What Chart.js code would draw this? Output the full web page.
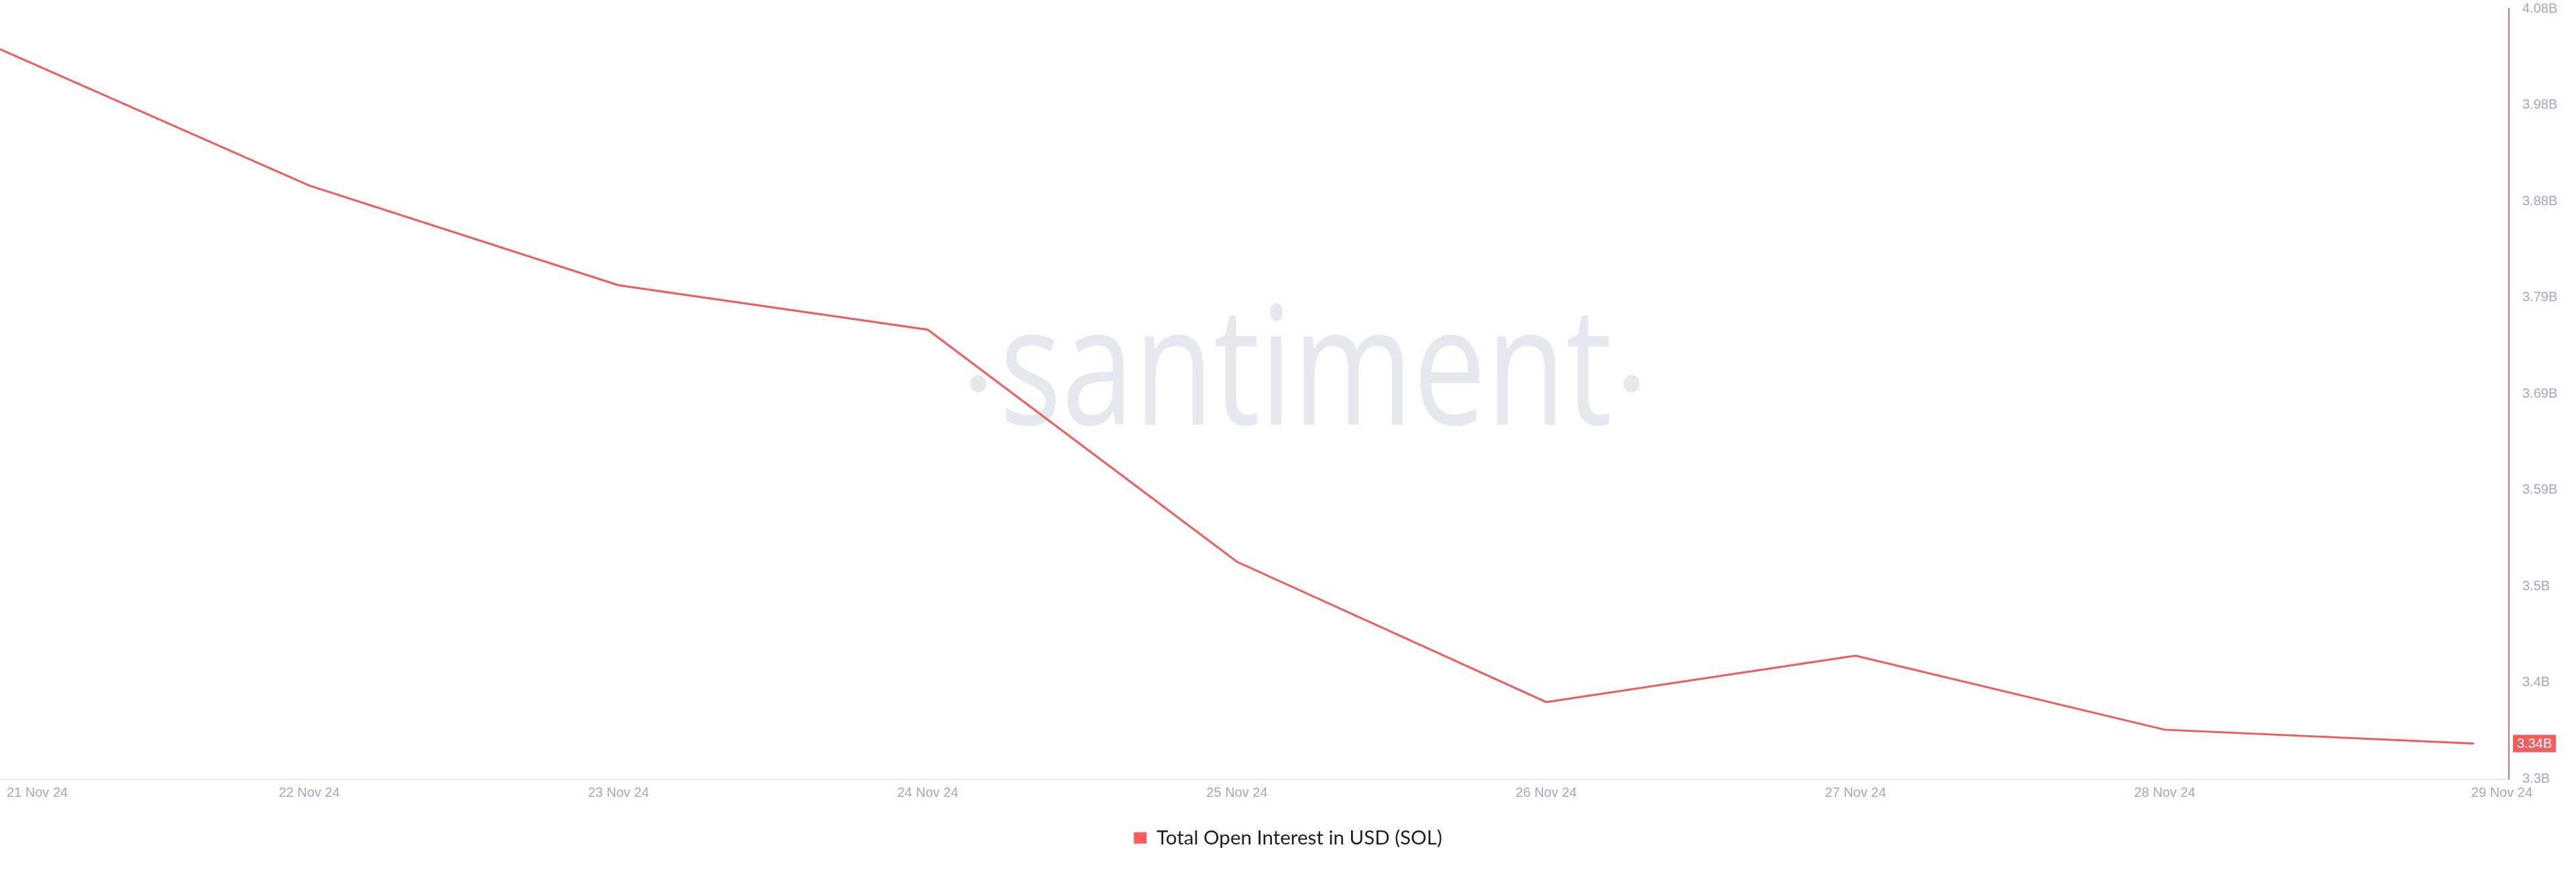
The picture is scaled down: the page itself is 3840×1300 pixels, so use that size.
<!DOCTYPE html>
<html>
<head>
<meta charset="utf-8">
<script src="https://cdn.jsdelivr.net/npm/chart.js@4.4.1/dist/chart.umd.min.js"></script>
<style>
  html, body { margin: 0; padding: 0; background: #ffffff; }
  #wrap { width: 3840px; height: 1300px; }
</style>
</head>
<body>
<div id="wrap"><canvas id="c" width="3840" height="1300"></canvas></div>
<script>
// ---- data ----
const dates = ['21 Nov 24', '22 Nov 24', '23 Nov 24', '24 Nov 24', '25 Nov 24', '26 Nov 24', '27 Nov 24', '28 Nov 24', '29 Nov 24'];
const openInterestB = [4.039, 3.901, 3.800, 3.755, 3.520, 3.378, 3.425, 3.350, 3.336];
const yTickLabels = ['3.3B', '3.4B', '3.5B', '3.59B', '3.69B', '3.79B', '3.88B', '3.98B', '4.08B'];
const yMin = 3.3;
const yMax = 4.08;
const seriesName = 'Total Open Interest in USD (SOL)';
const watermarkText = 'santiment';

const LINE = '#ef5a5a';
const TICK_COLOR = '#a2a7c2';
const TICK_FONT = '"Liberation Sans", Arial, sans-serif';

const watermark = {
  id: 'watermark',
  beforeDatasetsDraw(chart) {
    const ctx = chart.ctx;
    ctx.save();
    ctx.fillStyle = '#e6e8f0';
    ctx.font = '245px "Open Sans", sans-serif';
    ctx.textBaseline = 'alphabetic';
    ctx.textAlign = 'left';
    const natural = ctx.measureText(watermarkText).width;
    const targetW = 913;
    const cx = chart.chartArea.left + (chart.chartArea.right - chart.chartArea.left) * 0.5205;
    const left = cx - targetW / 2;
    ctx.translate(left, 633);
    ctx.scale(targetW / natural, 1);
    ctx.fillText(watermarkText, 0, 0);
    ctx.restore();
    ctx.save();
    ctx.fillStyle = '#e6e8f0';
    [left - 32, left + targetW + 29].forEach(x => {
      ctx.beginPath();
      ctx.ellipse(x, 572, 12, 13, 0, 0, Math.PI * 2);
      ctx.fill();
    });
    ctx.restore();
  }
};

const xLabels = {
  id: 'xLabels',
  afterDraw(chart) {
    const xs = chart.scales.x;
    const ctx = chart.ctx;
    ctx.save();
    ctx.font = '20px ' + TICK_FONT;
    ctx.fillStyle = TICK_COLOR;
    ctx.textBaseline = 'middle';
    ctx.textAlign = 'left';
    const y = xs.top + 21;
    dates.forEach((d, i) => {
      const px = xs.getPixelForValue(i);
      const w = ctx.measureText(d).width;
      let left = px - w / 2;
      if (i === 0) left = Math.max(left, xs.left + 10);
      if (i === dates.length - 1) left = xs.right + 35 - w;
      ctx.fillText(d, left, y);
    });
    ctx.restore();
  }
};

const lastBadge = {
  id: 'lastBadge',
  afterDraw(chart) {
    const ys = chart.scales.y;
    const ctx = chart.ctx;
    const v = openInterestB[openInterestB.length - 1];
    const py = ys.getPixelForValue(v);
    const text = v.toFixed(2) + 'B';
    ctx.save();
    ctx.font = '20px ' + TICK_FONT;
    const w = ctx.measureText(text).width;
    const x0 = ys.left + 6;
    ctx.fillStyle = '#f35d5d';
    ctx.fillRect(x0, py - 13, w + 12, 26);
    ctx.fillStyle = '#ffffff';
    ctx.textBaseline = 'middle';
    ctx.textAlign = 'left';
    ctx.fillText(text, x0 + 6, py + 1);
    ctx.restore();
  }
};

new Chart(document.getElementById('c'), {
  type: 'line',
  data: {
    datasets: [{
      label: seriesName,
      data: openInterestB.map((v, i) => ({ x: i, y: v })),
      borderColor: LINE,
      backgroundColor: '#ff5d5d',
      borderWidth: 3,
      pointRadius: 0,
      tension: 0,
      fill: false
    }]
  },
  options: {
    responsive: false,
    animation: false,
    devicePixelRatio: 1,
    layout: { padding: { top: 13, right: 0, bottom: 26, left: 0 } },
    plugins: {
      tooltip: { enabled: false },
      legend: {
        position: 'bottom',
        labels: {
          boxWidth: 19,
          boxHeight: 17,
          padding: 10,
          color: '#1c1c30',
          font: { size: 29.5, family: 'Lato, "Open Sans", sans-serif' },
          generateLabels(chart) {
            const items = Chart.defaults.plugins.legend.labels.generateLabels(chart);
            items.forEach(it => { it.lineWidth = 0; it.fillStyle = '#ff5d5d'; });
            return items;
          }
        }
      }
    },
    scales: {
      x: {
        type: 'linear',
        min: 0,
        max: dates.length - 1 + 0.113,
        grid: { display: false },
        border: { display: true, color: '#e8e9ee', width: 2 },
        ticks: { display: false },
        afterFit(s) { s.height = 63; s.paddingLeft = 0; s.paddingRight = 0; }
      },
      y: {
        position: 'right',
        min: yMin,
        max: yMax,
        grid: { display: false },
        border: { display: true, color: '#e46c6c', width: 2 },
        afterBuildTicks(s) {
          s.ticks = yTickLabels.map((_, i) => ({ value: yMin + i * (yMax - yMin) / (yTickLabels.length - 1) }));
        },
        ticks: {
          padding: 12,
          color: TICK_COLOR,
          font: { size: 20, family: TICK_FONT },
          callback: (v, i) => yTickLabels[i]
        },
        afterFit(s) { s.width = 100; s.paddingTop = 0; s.paddingBottom = 0; }
      }
    }
  },
  plugins: [watermark, xLabels, lastBadge]
});
</script>
</body>
</html>
